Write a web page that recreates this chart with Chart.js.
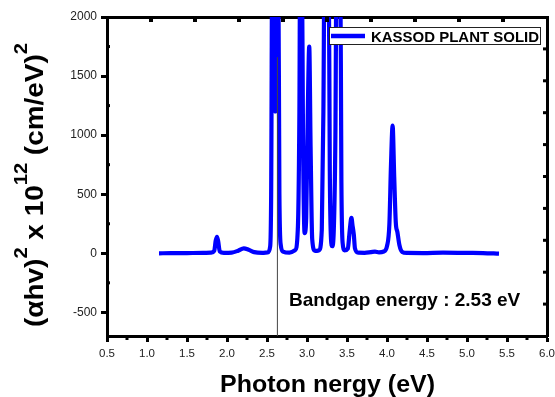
<!DOCTYPE html>
<html>
<head>
<meta charset="utf-8">
<title>Kassod plant solid - Tauc plot</title>
<script src="https://cdn.jsdelivr.net/npm/chart.js@4.4.0/dist/chart.umd.min.js"></script>
<style>
  html, body { margin: 0; padding: 0; background: #fff; }
</style>
</head>
<body>
<canvas id="tauc" width="555" height="397"></canvas>
<script>
// data
const seriesLabel = 'KASSOD PLANT SOLID';
const energy = [1.15, 1.30, 1.50, 1.70, 1.80, 1.84, 1.86, 1.875, 1.89, 1.91, 1.96, 2.06, 2.14, 2.21, 2.27, 2.34, 2.44, 2.51,
  2.54, 2.552, 2.566, 2.58, 2.592, 2.604, 2.616, 2.628, 2.64, 2.655, 2.672, 2.70, 2.78, 2.85, 2.885, 2.905, 2.915, 2.935, 2.95, 2.97,
  2.99, 3.01, 3.028, 3.045, 3.065, 3.10, 3.15, 3.185, 3.205, 3.22, 3.27, 3.285, 3.30, 3.315, 3.335, 3.355, 3.37, 3.415,
  3.43, 3.445, 3.47, 3.51, 3.535, 3.555, 3.57, 3.585, 3.60, 3.64, 3.72, 3.80, 3.85, 3.90, 3.96, 4.00, 4.03, 4.05, 4.07,
  4.09, 4.11, 4.13, 4.155, 4.19, 4.25, 4.45, 4.70, 5.00, 5.20, 5.40];
const tauc = [0, 1, 2, 3, 5, 20, 110, 140, 100, 15, 4, 6, 22, 42, 30, 10, 4, 8,
  60, 500, 2600, 1250, 2600, 1200, 2600, 1250, 2600, 500, 70, 15, 6, 25, 200, 1200, 2600, 2600, 1000, 170,
  300, 1200, 1750, 900, 120, 20, 25, 200, 1200, 2600, 2600, 700, 120, 60, 200, 1000, 2600, 2600,
  600, 90, 25, 40, 200, 300, 230, 160, 40, 5, 4, 10, 14, 8, 15, 60, 250, 750, 1080,
  650, 260, 180, 70, 12, 3, 2, 5, 3, 2, -3];

const bandgapX = [2.63, 2.63];
const bandgapY = [-700, 1660];
const bandgapText = 'Bandgap energy : 2.53 eV';

const xTitle = 'Photon nergy (eV)';
const yTitleParts = [['(αhv)', false], ['2', true], [' x 10', false], ['12', true], [' (cm/eV)', false], ['2', true]];

const xTickVals = [0.5, 1.0, 1.5, 2.0, 2.5, 3.0, 3.5, 4.0, 4.5, 5.0, 5.5, 6.0];
const yTickVals = [-500, 0, 500, 1000, 1500, 2000];
const xMinor = [0.75, 1.25, 1.75, 2.25, 2.75, 3.25, 3.75, 4.25, 4.75, 5.25, 5.75];
const yMinor = [-250, 250, 750, 1250, 1750];
const topTicks = [1.05, 1.6, 2.15, 2.7, 3.25, 3.8, 4.35, 4.9, 5.45];
const rightTicks = [-430, -160, 110, 380, 650, 920, 1190, 1460, 1730];

const FONT = '"Liberation Sans", Arial, Helvetica, sans-serif';

// text, legend and the extra tick marks
const decor = {
  id: 'decor',
  afterDraw(chart) {
    const ctx = chart.ctx;
    const xs = chart.scales.x, ys = chart.scales.y;
    const a = chart.chartArea;
    ctx.save();
    ctx.fillStyle = '#000';
    xMinor.forEach(v => { const px = xs.getPixelForValue(v); ctx.fillRect(px - 1.5, a.bottom, 3, 4); });
    yMinor.forEach(v => { const py = ys.getPixelForValue(v); ctx.fillRect(a.left, py - 1.5, 3, 3); });
    topTicks.forEach(v => { const px = xs.getPixelForValue(v); ctx.fillRect(px - 2, a.top, 4, 5); });
    rightTicks.forEach(v => { const py = ys.getPixelForValue(v); ctx.fillRect(a.right - 4, py - 1.5, 4, 3); });

    // legend
    const ds = chart.data.datasets[0];
    ctx.fillStyle = '#fff';
    ctx.fillRect(329, 27, 212, 18);
    ctx.strokeStyle = '#222';
    ctx.lineWidth = 1;
    ctx.strokeRect(329.5, 27.5, 211, 17);
    ctx.strokeStyle = ds.borderColor;
    ctx.lineWidth = 4.5;
    ctx.beginPath(); ctx.moveTo(331, 36); ctx.lineTo(365, 36); ctx.stroke();
    ctx.fillStyle = '#000';
    ctx.font = 'bold 15px ' + FONT;
    ctx.textBaseline = 'alphabetic';
    ctx.fillText(ds.label, 371, 41.5, 168);

    // annotation
    ctx.font = 'bold 19px ' + FONT;
    ctx.fillText(bandgapText, 289, 306, 238);

    // x title
    ctx.font = 'bold 23px ' + FONT;
    const wx = ctx.measureText(xTitle).width;
    ctx.save();
    ctx.translate(327.5, 392);
    ctx.scale(215 / wx, 1);
    ctx.textAlign = 'center';
    ctx.fillText(xTitle, 0, 0);
    ctx.restore();

    // y title with superscripts
    ctx.save();
    ctx.translate(43, 185);
    ctx.rotate(-Math.PI / 2);
    let total = 0;
    const widths = yTitleParts.map(([t, sup]) => {
      ctx.font = 'bold ' + (sup ? 18 : 25) + 'px ' + FONT;
      const w = ctx.measureText(t).width;
      total += w;
      return w;
    });
    ctx.scale(284 / total, 1);
    let x = -total / 2;
    yTitleParts.forEach(([t, sup], i) => {
      ctx.font = 'bold ' + (sup ? 18 : 25) + 'px ' + FONT;
      ctx.fillText(t, x, sup ? -16 : 0);
      x += widths[i];
    });
    ctx.restore();
    ctx.restore();
  }
};

new Chart(document.getElementById('tauc'), {
  type: 'line',
  data: {
    datasets: [{
      label: seriesLabel,
      data: energy.map((e, i) => ({ x: e, y: tauc[i] })),
      borderColor: '#0000ff',
      borderWidth: 4.2,
      pointRadius: 0,
      fill: false,
      cubicInterpolationMode: 'monotone',
      order: 1
    }, {
      label: 'bandgap',
      data: bandgapX.map((e, i) => ({ x: e, y: bandgapY[i] })),
      borderColor: '#444',
      borderWidth: 1,
      pointRadius: 0,
      tension: 0,
      order: 0
    }]
  },
  options: {
    responsive: false,
    animation: false,
    layout: { padding: 0 },
    plugins: { legend: { display: false }, tooltip: { enabled: false } },
    scales: {
      x: {
        type: 'linear', position: 'bottom', min: 0.5, max: 6,
        afterBuildTicks: s => { s.ticks = xTickVals.map(v => ({ value: v })); },
        afterFit: s => { s.height = 61; s.paddingLeft = 0; s.paddingRight = 0; },
        ticks: { autoSkip: false, maxRotation: 0, padding: 5,
          color: '#222', font: { family: FONT, size: 11.5 }, callback: v => Number(v).toFixed(1) },
        grid: { drawOnChartArea: false, tickLength: 6, tickWidth: 3, tickColor: '#000' },
        border: { color: '#000', width: 3 }
      },
      y: {
        type: 'linear', position: 'left', min: -700, max: 2000,
        afterBuildTicks: s => { s.ticks = yTickVals.map(v => ({ value: v })); },
        afterFit: s => { s.width = 107; s.paddingTop = 0; s.paddingBottom = 0; },
        ticks: { autoSkip: false, padding: 4,
          color: '#222', font: { family: FONT, size: 12 }, callback: v => String(v) },
        grid: { drawOnChartArea: false, tickLength: 6, tickWidth: 3, tickColor: '#000' },
        border: { color: '#000', width: 3 }
      },
      x2: {
        type: 'linear', position: 'top', min: 0.5, max: 6,
        afterFit: s => { s.height = 17; s.paddingLeft = 0; s.paddingRight = 0; },
        ticks: { display: false },
        grid: { display: false },
        border: { color: '#000', width: 3 }
      },
      y2: {
        type: 'linear', position: 'right', min: -700, max: 2000,
        afterFit: s => { s.width = 8; s.paddingTop = 0; s.paddingBottom = 0; },
        ticks: { display: false },
        grid: { display: false },
        border: { color: '#000', width: 3 }
      }
    }
  },
  plugins: [decor]
});
</script>
</body>
</html>
